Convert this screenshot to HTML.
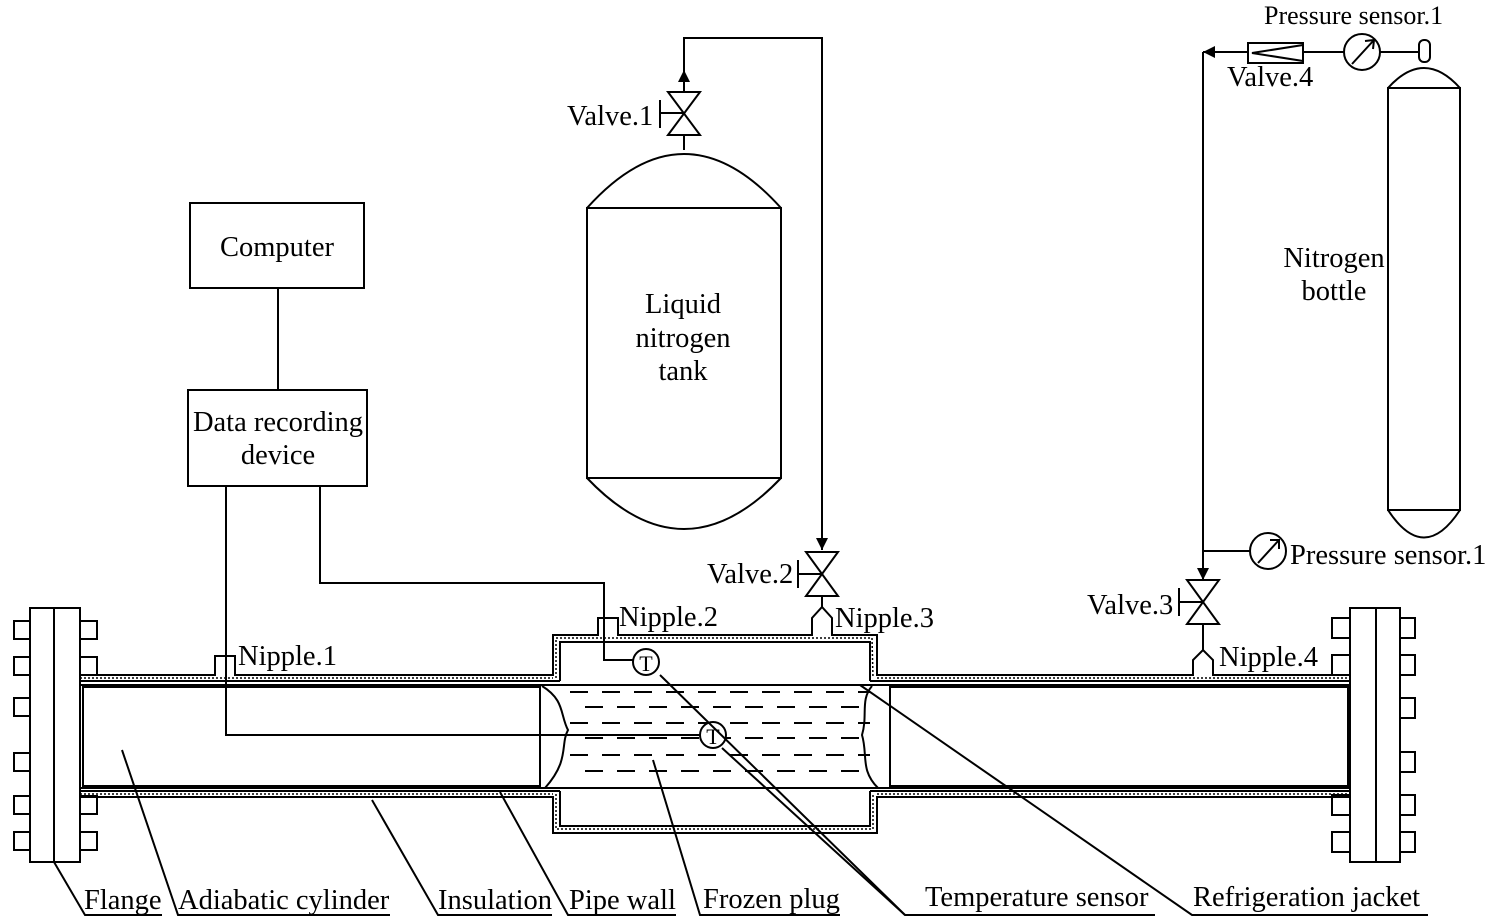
<!DOCTYPE html>
<html><head><meta charset="utf-8"><style>
html,body{margin:0;padding:0;background:#fff}
svg{display:block}
text{font-family:"Liberation Serif",serif;font-size:28.5px;fill:#000}
</style></head><body>
<svg width="1500" height="924" viewBox="0 0 1500 924" xmlns="http://www.w3.org/2000/svg">
<defs>
<marker id="ar" viewBox="0 0 10 10" refX="10" refY="5" markerWidth="12" markerHeight="12" markerUnits="userSpaceOnUse" orient="auto"><path d="M0,0 L10,5 L0,10 z" fill="#000"/></marker>
</defs>
<g fill="none" stroke="#000" stroke-width="2">
<rect x="190" y="203" width="174" height="85"/>
<rect x="188" y="390" width="179" height="96"/>
<line x1="278" y1="288" x2="278" y2="390"/>
<polyline points="226,486 226,735 700,735"/>
<polyline points="320,486 320,583 604,583 604,660 633,660"/>
<!-- left flange -->
<rect x="30" y="608" width="50" height="254"/>
<line x1="54" y1="608" x2="54" y2="862"/>
<rect x="14" y="621" width="16" height="18"/><rect x="14" y="657" width="16" height="18"/><rect x="14" y="698" width="16" height="18"/>
<rect x="14" y="753" width="16" height="18"/><rect x="14" y="796" width="16" height="18"/><rect x="14" y="832" width="16" height="18"/>
<rect x="80" y="621" width="17" height="18"/><rect x="80" y="657" width="17" height="18"/>
<rect x="80" y="796" width="17" height="18"/><rect x="80" y="832" width="17" height="18"/>
<!-- right flange -->
<rect x="1350" y="608" width="50" height="254"/>
<line x1="1376" y1="608" x2="1376" y2="862"/>
<rect x="1400" y="618" width="15" height="20"/><rect x="1400" y="655" width="15" height="20"/><rect x="1400" y="698" width="15" height="20"/>
<rect x="1400" y="752" width="15" height="20"/><rect x="1400" y="795" width="15" height="20"/><rect x="1400" y="832" width="15" height="20"/>
<rect x="1332" y="618" width="18" height="20"/><rect x="1332" y="655" width="18" height="20"/>
<rect x="1332" y="795" width="18" height="20"/><rect x="1332" y="832" width="18" height="20"/>
<!-- outer insulation -->
<polyline points="80,675 215,675 215,656 235,656 235,675 553,675 553,635 598,635 598,618 618,618 618,635 812,635 812,618 822,607 832,618 832,635 877,635 877,675 1193,675 1193,660 1203,650 1213,660 1213,675 1350,675"/>
<polyline points="80,797 553,797 553,833 877,833 877,797 1350,797"/>
<line x1="80" y1="681" x2="560" y2="681"/>
<line x1="870" y1="681" x2="1350" y2="681"/>
<polyline points="560,681 560,642 870,642 870,681"/>
<line x1="80" y1="791" x2="560" y2="791"/>
<line x1="870" y1="791" x2="1350" y2="791"/>
<polyline points="560,791 560,826 870,826 870,791"/>
<line x1="80" y1="685" x2="1350" y2="685"/>
<line x1="80" y1="788" x2="1350" y2="788"/>
<rect x="83" y="687" width="457" height="99"/>
<rect x="890" y="687" width="458" height="99"/>
<path d="M542,686 C565,700 560,715 568,730 C560,745 570,760 545,788"/>
<path d="M872,686 C860,700 868,715 862,735 C868,755 860,770 878,788"/>
</g>
<g stroke="#000" stroke-width="1.5" stroke-dasharray="2,2" fill="none">
<line x1="80" y1="678" x2="553" y2="678"/><line x1="877" y1="678" x2="1350" y2="678"/>
<polyline points="556,678 556,638 872,638 873,678"/>
<line x1="80" y1="794" x2="553" y2="794"/><line x1="877" y1="794" x2="1350" y2="794"/>
<polyline points="556,794 556,829 873,829 873,794"/>
</g>
<g stroke="#000" stroke-width="2" stroke-dasharray="18,14" fill="none">
<line x1="570" y1="692" x2="870" y2="692"/>
<line x1="585" y1="707" x2="870" y2="707"/>
<line x1="570" y1="723" x2="870" y2="723"/>
<line x1="585" y1="738" x2="870" y2="738"/>
<line x1="570" y1="755" x2="870" y2="755"/>
<line x1="585" y1="771" x2="870" y2="771"/>
<line x1="570" y1="788" x2="870" y2="788"/>
</g>
<g fill="#fff" stroke="#000" stroke-width="2">
<circle cx="646" cy="662" r="13"/>
<circle cx="713" cy="735" r="13"/>
</g>
<text x="646" y="671" text-anchor="middle" style="font-size:22px">T</text>
<text x="713" y="744" text-anchor="middle" style="font-size:22px">T</text>
<g fill="none" stroke="#000" stroke-width="2">
<path d="M587,208 Q684,100 781,208"/>
<rect x="587" y="208" width="194" height="270"/>
<path d="M587,478 Q684,580 781,478"/>
<line x1="684" y1="150" x2="684" y2="135"/>
<path d="M668,92 L700,92 L668,135 L700,135 Z"/>
<line x1="684" y1="113" x2="660" y2="113"/><line x1="660" y1="100" x2="660" y2="128"/>
<line x1="684" y1="92" x2="684" y2="70" marker-end="url(#ar)"/>
<polyline points="684,70 684,38 822,38 822,550" marker-end="url(#ar)"/>
<path d="M806,552 L838,552 L806,596 L838,596 Z"/>
<line x1="822" y1="574" x2="798" y2="574"/><line x1="798" y1="560" x2="798" y2="588"/>
<line x1="822" y1="596" x2="822" y2="607"/>
<path d="M1388,88 Q1424,48 1460,88"/>
<rect x="1388" y="88" width="72" height="422"/>
<path d="M1388,510 Q1424,565 1460,510"/>
<rect x="1419" y="40" width="11" height="22" rx="5"/>
<line x1="1419" y1="52" x2="1380" y2="52"/>
<circle cx="1362" cy="52" r="18"/>
<polyline points="1352,64 1374,40"/><polyline points="1365,41 1374,40 1373,49"/>
<line x1="1344" y1="52" x2="1303" y2="52"/>
<rect x="1248" y="43" width="55" height="20"/>
<polyline points="1303,45 1252,53 1303,61"/>
<line x1="1248" y1="52" x2="1203" y2="52" marker-end="url(#ar)"/>
<polyline points="1203,52 1203,580" marker-end="url(#ar)"/>
<line x1="1203" y1="551" x2="1250" y2="551"/>
<circle cx="1268" cy="551" r="18"/>
<polyline points="1258,563 1279,540"/><polyline points="1270,540 1279,540 1279,549"/>
<path d="M1187,580 L1219,580 L1187,624 L1219,624 Z"/>
<line x1="1203" y1="602" x2="1179" y2="602"/><line x1="1179" y1="588" x2="1179" y2="616"/>
<line x1="1203" y1="624" x2="1203" y2="650"/>
<polyline points="54,862 85,915 162,915"/>
<polyline points="122,750 178,915 390,915"/>
<polyline points="372,800 438,915 552,915"/>
<polyline points="500,792 568,915 676,915"/>
<polyline points="653,760 700,915 840,915"/>
<polyline points="660,675 905,915 1155,915"/>
<line x1="722" y1="748" x2="905" y2="915"/>
<polyline points="860,685 1192,915 1428,915"/>
</g>
<text x="277" y="256" text-anchor="middle">Computer</text>
<text x="278" y="431" text-anchor="middle">Data recording</text>
<text x="278" y="464" text-anchor="middle">device</text>
<text x="683" y="313" text-anchor="middle">Liquid</text>
<text x="683" y="347" text-anchor="middle">nitrogen</text>
<text x="683" y="380" text-anchor="middle">tank</text>
<text x="1334" y="267" text-anchor="middle">Nitrogen</text>
<text x="1334" y="300" text-anchor="middle">bottle</text>
<text x="567" y="125">Valve.1</text>
<text x="707" y="583">Valve.2</text>
<text x="1087" y="614">Valve.3</text>
<text x="1227" y="86">Valve.4</text>
<text x="1264" y="24" style="font-size:26px">Pressure sensor.1</text>
<text x="1290" y="564">Pressure sensor.1</text>
<text x="238" y="665">Nipple.1</text>
<text x="619" y="626">Nipple.2</text>
<text x="835" y="627">Nipple.3</text>
<text x="1219" y="666">Nipple.4</text>
<text x="84" y="909">Flange</text>
<text x="178" y="909">Adiabatic cylinder</text>
<text x="438" y="909">Insulation</text>
<text x="569" y="909">Pipe wall</text>
<text x="703" y="908">Frozen plug</text>
<text x="925" y="906">Temperature sensor</text>
<text x="1193" y="906">Refrigeration jacket</text>
</svg>
</body></html>
